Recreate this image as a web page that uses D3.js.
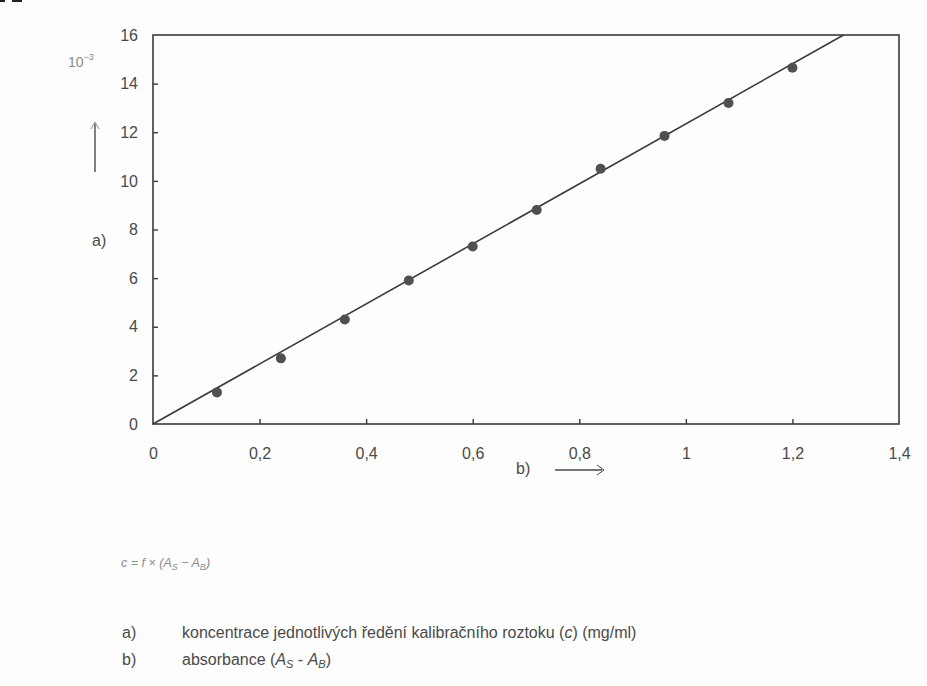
<!DOCTYPE html>
<html>
<head>
<meta charset="utf-8">
<script src="https://cdn.jsdelivr.net/npm/d3@7"></script>
<style>
  body { margin: 0; background: #fdfdfd; }
  svg text { font-family: "Liberation Sans", Arial, sans-serif; }
</style>
</head>
<body>
<div id="chart"></div>
<script>
// data
const absorbance = [0.12, 0.24, 0.36, 0.48, 0.6, 0.72, 0.84, 0.96, 1.08, 1.2];
const concentration = [1.3, 2.7, 4.3, 5.9, 7.3, 8.8, 10.5, 11.85, 13.2, 14.65];
const fitX = [0, 1.296];
const fitY = [0, 16];
const xTicks = [0, 0.2, 0.4, 0.6, 0.8, 1, 1.2, 1.4];
const yTicks = [0, 2, 4, 6, 8, 10, 12, 14, 16];

const colors = {
  axis: "#3a3a3a",
  text: "#4a4a4a",
  dot: "#505050",
  light: "#8c8c8c",
};
const config = { left: 153, right: 899, top: 35, bottom: 424 };

const svg = d3.select("#chart").append("svg")
  .attr("width", 927).attr("height", 686);

const x = d3.scaleLinear().domain([0, 1.4]).range([config.left, config.right]);
const y = d3.scaleLinear().domain([0, 16]).range([config.bottom, config.top]);

const fmt = d => String(d).replace(".", ",");

// frame
svg.append("rect")
  .attr("x", config.left).attr("y", config.top)
  .attr("width", config.right - config.left)
  .attr("height", config.bottom - config.top)
  .attr("fill", "none").attr("stroke", colors.axis).attr("stroke-width", 1.6);

// axes, ticks inward
const xAxis = svg.append("g")
  .attr("transform", `translate(0,${config.bottom})`)
  .call(d3.axisBottom(x).tickValues(xTicks).tickFormat(fmt).tickSizeInner(-5).tickSizeOuter(0).tickPadding(24));
const yAxis = svg.append("g")
  .attr("transform", `translate(${config.left},0)`)
  .call(d3.axisLeft(y).tickValues(yTicks).tickSizeInner(-5).tickSizeOuter(0).tickPadding(15));
[xAxis, yAxis].forEach(g => {
  g.select(".domain").remove();
  g.selectAll(".tick line").attr("stroke", colors.axis).attr("stroke-width", 1.4);
  g.selectAll(".tick text").attr("fill", colors.text).style("font-size", "16px");
});
xAxis.selectAll(".tick").filter(d => d === 0 || d === 1.4).select("line").remove();
yAxis.selectAll(".tick").filter(d => d === 0 || d === 16).select("line").remove();

// fitted line
const line = d3.line().x(d => x(d[0])).y(d => y(d[1]));
svg.append("path")
  .datum(d3.zip(fitX, fitY))
  .attr("d", line)
  .attr("fill", "none").attr("stroke", colors.axis).attr("stroke-width", 1.6);

// points
svg.selectAll("circle.pt")
  .data(d3.zip(absorbance, concentration))
  .enter().append("circle")
  .attr("class", "pt")
  .attr("cx", d => x(d[0])).attr("cy", d => y(d[1]))
  .attr("r", 5).attr("fill", colors.dot);

// axis annotations
const t1 = svg.append("text").attr("x", 68).attr("y", 67)
  .attr("fill", colors.light).style("font-size", "14px").text("10");
t1.append("tspan").attr("dy", -7).style("font-size", "9px").text("−3");

svg.append("line").attr("x1", 95).attr("x2", 95).attr("y1", 124).attr("y2", 172)
  .attr("stroke", colors.text).attr("stroke-width", 1.4);
svg.append("path").attr("d", "M91,129 L95,122 L99,129")
  .attr("fill", "none").attr("stroke", colors.light).attr("stroke-width", 1);

svg.append("text").attr("x", 92).attr("y", 246)
  .attr("fill", colors.text).style("font-size", "16px").text("a)");

svg.append("text").attr("x", 516).attr("y", 474)
  .attr("fill", colors.text).style("font-size", "16px").text("b)");
svg.append("line").attr("x1", 555).attr("x2", 602).attr("y1", 470).attr("y2", 470)
  .attr("stroke", colors.text).attr("stroke-width", 1.4);
svg.append("path").attr("d", "M597,465 L604,470 L597,475")
  .attr("fill", "none").attr("stroke", colors.text).attr("stroke-width", 1);

// formula
const f = svg.append("text").attr("x", 121).attr("y", 567)
  .attr("fill", colors.light).style("font-size", "12.5px").style("font-style", "italic");
f.append("tspan").text("c = f × (A");
f.append("tspan").attr("dy", 3).style("font-size", "9px").text("S");
f.append("tspan").attr("dy", -3).text(" − A");
f.append("tspan").attr("dy", 3).style("font-size", "9px").text("B");
f.append("tspan").attr("dy", -3).text(")");

// legend lines
svg.append("text").attr("x", 122).attr("y", 638)
  .attr("fill", colors.text).style("font-size", "16px").text("a)");
const la = svg.append("text").attr("x", 182).attr("y", 638)
  .attr("fill", colors.text).style("font-size", "16px");
la.append("tspan").text("koncentrace jednotlivých ředění kalibračního roztoku (");
la.append("tspan").style("font-style", "italic").text("c");
la.append("tspan").text(") (mg/ml)");

svg.append("text").attr("x", 122).attr("y", 665)
  .attr("fill", colors.text).style("font-size", "16px").text("b)");
const lb = svg.append("text").attr("x", 182).attr("y", 665)
  .attr("fill", colors.text).style("font-size", "16px");
lb.append("tspan").text("absorbance (");
lb.append("tspan").style("font-style", "italic").text("A");
lb.append("tspan").attr("dy", 3).style("font-size", "11px").style("font-style", "italic").text("S");
lb.append("tspan").attr("dy", -3).text(" - ");
lb.append("tspan").style("font-style", "italic").text("A");
lb.append("tspan").attr("dy", 3).style("font-size", "11px").style("font-style", "italic").text("B");
lb.append("tspan").attr("dy", -3).text(")");

// scanned fragment of a heading cut by the top edge
svg.append("path").attr("d", "M0,0 H5 V2 H0 Z M12,0 H22 V2 H12 Z").attr("fill", "#222");
</script>
</body>
</html>
